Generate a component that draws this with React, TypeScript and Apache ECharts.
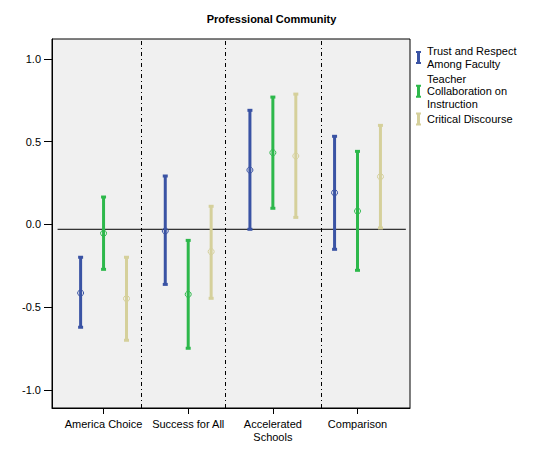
import React, { useEffect, useRef } from "react";
import * as echarts from "echarts";

const categories = ["America Choice", "Success for All", "Accelerated\nSchools", "Comparison"];
const categoryPositions = [1, 2, 3, 4];
const seriesNames = ["Trust and Respect\nAmong Faculty", "Teacher\nCollaboration on\nInstruction", "Critical Discourse"];
const seriesColors = ["#3A53A4", "#2DB84B", "#D5D09B"];
const seriesOffsets = [-0.271, 0, 0.271];

const trustMean = [-0.415, -0.04, 0.328, 0.191];
const trustLow = [-0.622, -0.363, -0.03, -0.151];
const trustHigh = [-0.199, 0.292, 0.689, 0.532];

const collabMean = [-0.054, -0.423, 0.433, 0.08];
const collabLow = [-0.272, -0.749, 0.097, -0.278];
const collabHigh = [0.165, -0.097, 0.769, 0.441];

const discMean = [-0.449, -0.165, 0.413, 0.288];
const discLow = [-0.701, -0.447, 0.042, -0.022];
const discHigh = [-0.199, 0.109, 0.787, 0.598];

const yTicks = [-1, -0.5, 0, 0.5, 1];
const dividers = [1.453, 2.445, 3.573];
const refLineValue = -0.03;
const refLineRange = [0.457, 4.571];

const means = [trustMean, collabMean, discMean];
const lows = [trustLow, collabLow, discLow];
const highs = [trustHigh, collabHigh, discHigh];

const FONT = "'Liberation Sans', Arial, sans-serif";

export default function App() {
  const ref = useRef<HTMLDivElement>(null);

  useEffect(() => {
    document.body.style.margin = "0";
    if (!ref.current) return;
    const chart = echarts.init(ref.current, null, { renderer: "svg" });

    const errorSeries = seriesNames.map((name, si) => ({
      name,
      type: "custom",
      itemStyle: { color: seriesColors[si] },
      data: categoryPositions.map((p, ci) => [p + seriesOffsets[si], lows[si][ci], highs[si][ci], means[si][ci]]),
      renderItem: (params: any, api: any) => {
        const x = api.value(0);
        const pLo = api.coord([x, api.value(1)]);
        const pHi = api.coord([x, api.value(2)]);
        const pM = api.coord([x, api.value(3)]);
        const c = seriesColors[si];
        return {
          type: "group",
          children: [
            { type: "line", shape: { x1: pLo[0], y1: pLo[1], x2: pHi[0], y2: pHi[1] }, style: { stroke: c, lineWidth: 3 } },
            { type: "rect", shape: { x: pHi[0] - 2.5, y: pHi[1] - 1.5, width: 5, height: 3 }, style: { fill: c } },
            { type: "rect", shape: { x: pLo[0] - 2.5, y: pLo[1] - 1.5, width: 5, height: 3 }, style: { fill: c } },
            { type: "circle", shape: { cx: pM[0], cy: pM[1], r: 3 }, style: { fill: "none", stroke: c, lineWidth: 1 } },
          ],
        };
      },
    }));

    chart.setOption({
      animation: false,
      title: {
        text: "Professional Community",
        left: "center",
        top: 8,
        textStyle: { fontFamily: FONT, fontSize: 11, fontWeight: "bold", color: "#000" },
      },
      legend: {
        data: seriesNames,
        orient: "vertical",
        left: 416,
        top: 45,
        padding: 0,
        itemGap: 2.5,
        itemWidth: 5,
        itemHeight: 13,
        icon: "path://M0,0H5V2H4V11H5V13H0V11H1V2H0Z",
        selectedMode: false,
        textStyle: { fontFamily: FONT, fontSize: 11, lineHeight: 12.5, color: "#000", padding: [0, 0, 0, 1] },
      },
      grid: {
        left: 52,
        right: 133,
        top: 39,
        bottom: 59,
        show: true,
        backgroundColor: "#F0F0F0",
        borderColor: "#000",
        borderWidth: 1,
      },
      xAxis: {
        type: "value",
        min: 0.391,
        max: 4.62,
        splitLine: { show: false },
        axisLine: { show: true, onZero: false, lineStyle: { color: "#000" } },
        axisTick: { show: true, customValues: categoryPositions, length: 6, lineStyle: { color: "#000" } },
        axisLabel: {
          customValues: categoryPositions,
          formatter: (v: number) => categories[Math.round(v) - 1] ?? "",
          margin: 9,
          fontFamily: FONT,
          fontSize: 11,
          lineHeight: 13,
          color: "#000",
        },
      },
      yAxis: {
        type: "value",
        min: -1.11,
        max: 1.12,
        splitLine: { show: false },
        axisLine: { show: true, onZero: false, lineStyle: { color: "#000" } },
        axisTick: { show: true, customValues: yTicks, length: 8, lineStyle: { color: "#000" } },
        axisLabel: {
          customValues: yTicks,
          formatter: (v: number) => v.toFixed(1),
          margin: 11,
          fontFamily: FONT,
          fontSize: 11,
          color: "#000",
        },
      },
      series: [
        {
          name: "reference",
          type: "line",
          data: [[refLineRange[0], refLineValue], [refLineRange[1], refLineValue]],
          symbol: "none",
          silent: true,
          lineStyle: { color: "#000", width: 1 },
          markLine: {
            silent: true,
            symbol: "none",
            label: { show: false },
            lineStyle: { color: "#000", width: 1, type: [4, 3, 1, 3] },
            data: dividers.map((d) => ({ xAxis: d })),
          },
          z: 1,
        },
        ...errorSeries,
      ],
    });

    return () => chart.dispose();
  }, []);

  return <div ref={ref} style={{ width: 543, height: 467 }} />;
}
